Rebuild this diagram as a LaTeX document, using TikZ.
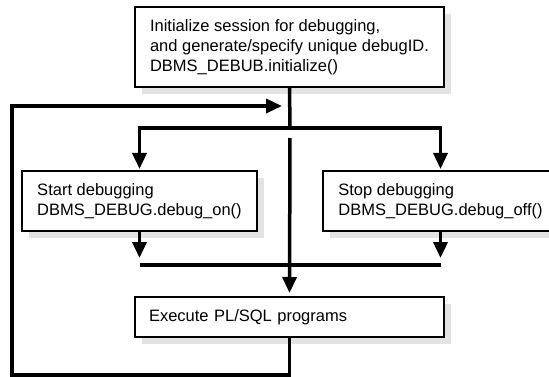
\documentclass[tikz,border=0pt]{standalone}
\usepackage{fontspec}
\setmainfont{Liberation Sans}
\usetikzlibrary{arrows.meta,backgrounds}

\begin{document}
\begin{tikzpicture}[x=1pt,y=-1pt,
        box/.style={draw, line width=1.4pt, fill=white, align=left, anchor=north west,
            inner xsep=14pt, inner ysep=0pt, outer sep=0pt,
            font=\fontsize{16.5}{20}\selectfont},
        boxshadow/.style={fill=black, fill opacity=0.11},
        flow/.style={line width=3.5pt, >={Triangle[length=16pt,width=14pt]}}]
        \useasboundingbox (0,0) rectangle (549,377);
        \node[box, minimum width=309pt, minimum height=80pt] (init) at (135,7)
            {Initialize session for debugging,\\and generate/specify unique debugID.\\DBMS\_DEBUB.initialize()};
        \node[box, minimum width=235pt, minimum height=60pt] (on) at (22,171)
            {Start debugging\\DBMS\_DEBUG.debug\_on()};
        \node[box, minimum width=235pt, minimum height=60pt] (off) at (323,171)
            {Stop debugging\\DBMS\_DEBUG.debug\_off()};
        \node[box, text width=281pt, minimum height=40pt] (exec) at (135,297)
            {Execute PL/SQL programs};
        \begin{scope}[on background layer]
            \foreach \n in {init,on,off,exec}
                \fill[boxshadow] ([shift={(7,7)}]\n.north west) rectangle ([shift={(7,7)}]\n.south east);
        \end{scope}
        \coordinate (split) at (290,128);
        \coordinate (join) at (290,265);
        \coordinate (loop) at (12,375);
        \coordinate (back) at (290,106);
        \draw[flow] (init.south) -- (split);
        \draw[flow,<->,shorten <=2pt,shorten >=2pt] (on.north) |- (split) -| (off.north);
        \draw[flow,->,shorten >=7pt] (on.south) -- (on.south |- join);
        \draw[flow,->,shorten >=7pt] (off.south) -- (off.south |- join);
        \draw[flow] (on.south |- join) -- (off.south |- join);
        \draw[flow,->,shorten <=10pt,shorten >=4pt] (split) -- (exec.north);
        \draw[flow,->,shorten >=8pt] (exec.south) |- (loop) |- (back);
    \end{tikzpicture}
\end{document}
